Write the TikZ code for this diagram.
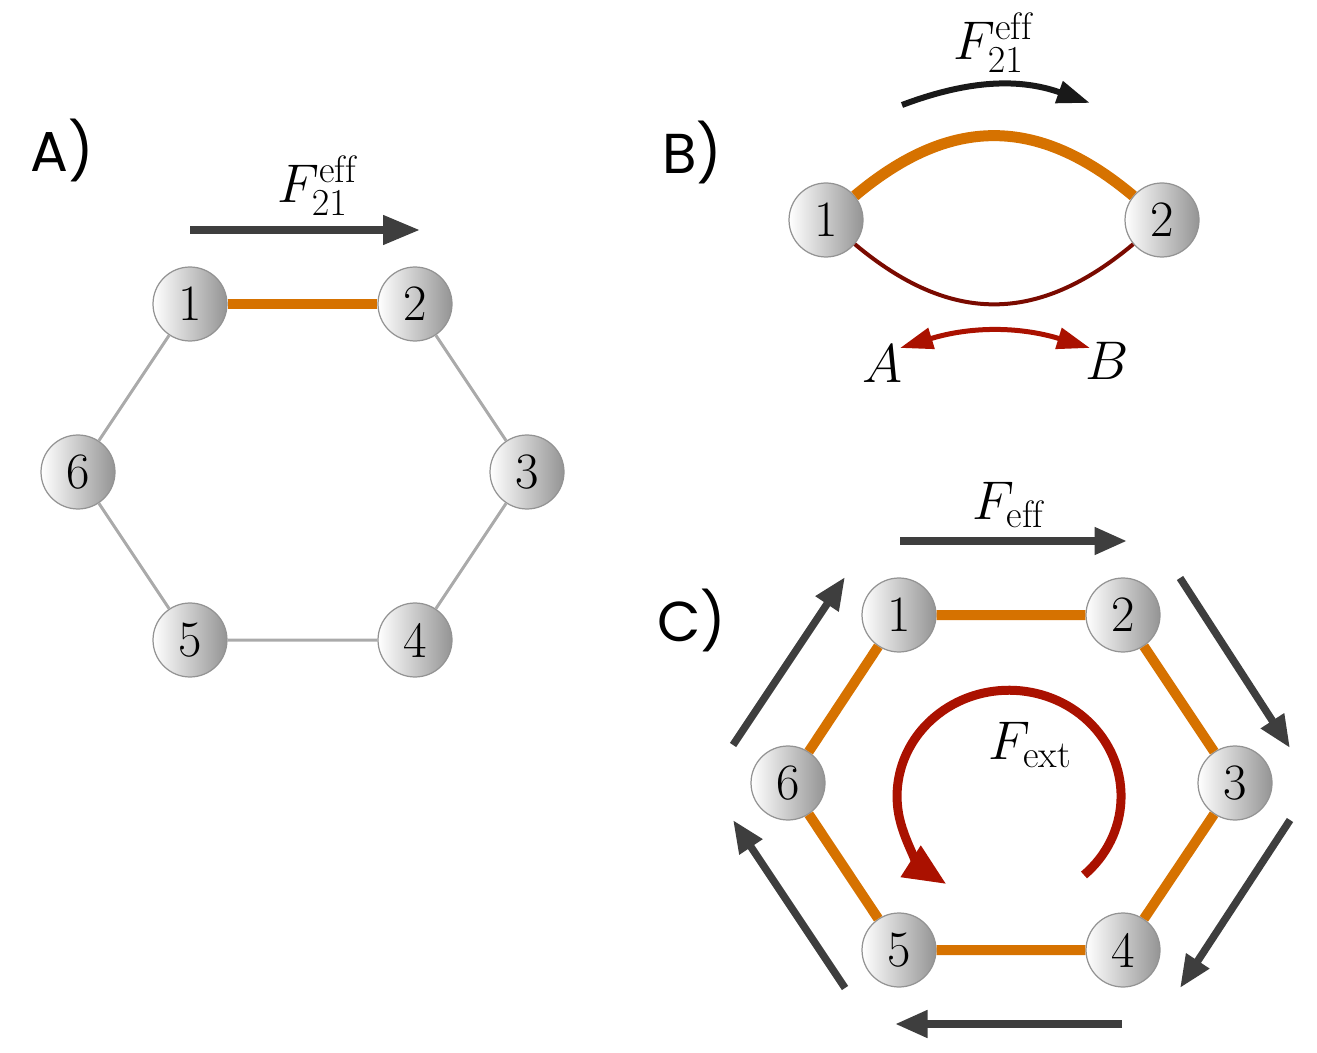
\RequirePackage{fix-cm}
\documentclass[tikz,border=0pt]{standalone}
\usepackage{fontspec}
\newfontfamily\panelfont{Poppins}
\usetikzlibrary{arrows.meta}

\definecolor{linkOrange}{RGB}{214,114,0}
\definecolor{linkDarkRed}{RGB}{122,10,0}
\definecolor{arrowRed}{RGB}{170,17,0}
\definecolor{arrowGray}{RGB}{62,62,62}
\definecolor{edgeGray}{RGB}{170,170,170}

\tikzstyle{ball} = [circle, minimum size=1.48cm, inner sep=0pt, draw=gray!85, line width=0.7pt, left color=white, right color=black!42, font=\fontsize{29}{33}\selectfont]
\tikzstyle{panelLabel} = [font=\panelfont\fontsize{32}{36}\selectfont]
\tikzstyle{forceLabel} = [font=\fontsize{31}{35}\selectfont]
\tikzstyle{thinEdge} = [edgeGray, line width=0.06cm]
\tikzstyle{orangeEdge} = [linkOrange, line width=0.2cm]
\tikzstyle{forceArrow} = [arrowGray, line width=0.15cm, -{Triangle[length=0.65cm,width=0.52cm]}]

\begin{document}
\begin{tikzpicture}[x=0.02cm,y=0.02cm]
    \useasboundingbox (0,0) rectangle (1317,1052);

    % panel A
    \node (lblA)[panelLabel] at (62,902) {A)};
    \node (a1)[ball] at (190,748) {1};
    \node (a2)[ball] at (415,748) {2};
    \node (a3)[ball] at (527,580) {3};
    \node (a4)[ball] at (415,412) {4};
    \node (a5)[ball] at (190,412) {5};
    \node (a6)[ball] at (78,580) {6};

    \draw [thinEdge] (a2) -- (a3) -- (a4) -- (a5) -- (a6) -- (a1);
    \draw [orangeEdge] (a1) -- (a2);

    \coordinate (fa1) at (190,822);
    \coordinate (fa2) at (420,822);
    \draw [forceArrow, -{Triangle[length=0.74cm,width=0.56cm]}] (fa1) -- (fa2);
    \node (Fa)[forceLabel] at (317,866) {$F^{\mathrm{eff}}_{21}$};

    % panel B
    \node (lblB)[panelLabel] at (692,900) {B)};
    \node (b1)[ball] at (826,832) {1};
    \node (b2)[ball] at (1162,832) {2};

    \draw [orangeEdge, line width=0.22cm] (b1) to[out=40,in=140,looseness=1.15] (b2);
    \draw [linkDarkRed, line width=0.08cm] (b1) to[out=-40,in=-140,looseness=1.15] (b2);

    \coordinate (fb1) at (902,947);
    \coordinate (fb2) at (1090,949);
    \draw [black!90, line width=0.12cm, -{Triangle[length=0.66cm,width=0.44cm]}] (fb1) to[bend left=20] (fb2);
    \node (Fb)[forceLabel] at (993,1009) {$F^{\mathrm{eff}}_{21}$};

    \coordinate (ab1) at (900,704);
    \coordinate (ab2) at (1090,704);
    \draw [arrowRed, line width=0.1cm, {Triangle[length=0.66cm,width=0.42cm]}-{Triangle[length=0.66cm,width=0.42cm]}] (ab1) to[bend left=17] (ab2);
    \node (stA)[forceLabel] at (882,688) {$A$};
    \node (stB)[forceLabel] at (1107,691) {$B$};

    % panel C
    \node (lblC)[panelLabel] at (692,432) {C)};
    \node (c1)[ball] at (899,437) {1};
    \node (c2)[ball] at (1123,437) {2};
    \node (c3)[ball] at (1235,269) {3};
    \node (c4)[ball] at (1123,102) {4};
    \node (c5)[ball] at (899,102) {5};
    \node (c6)[ball] at (788,269) {6};

    \draw [orangeEdge] (c1) -- (c2) -- (c3) -- (c4) -- (c5) -- (c6) -- (c1);

    \coordinate (fc1) at (900,511);
    \coordinate (fc2) at (1127,511);
    \coordinate (fc3) at (1180,474);
    \coordinate (fc4) at (1290,304);
    \coordinate (fc5) at (1290,232);
    \coordinate (fc6) at (1180,64);
    \coordinate (fc7) at (1122,28);
    \coordinate (fc8) at (895,28);
    \coordinate (fc9) at (845,64);
    \coordinate (fc10) at (733,232);
    \coordinate (fc11) at (733,307);
    \coordinate (fc12) at (845,475);
    \draw [forceArrow] (fc1) -- (fc2);
    \draw [forceArrow] (fc3) -- (fc4);
    \draw [forceArrow] (fc5) -- (fc6);
    \draw [forceArrow] (fc7) -- (fc8);
    \draw [forceArrow] (fc9) -- (fc10);
    \draw [forceArrow] (fc11) -- (fc12);
    \node (Feff)[forceLabel] at (1008,547) {$F_{\mathrm{eff}}$};

    \coordinate (extStart) at (1084,177);
    \draw [arrowRed, line width=0.18cm, -{Triangle[length=0.85cm,width=0.7cm]}] (extStart) arc[start angle=-48, end angle=236, x radius=112, y radius=106];
    \node (Fext)[forceLabel] at (1030,307) {$F_{\mathrm{ext}}$};

\end{tikzpicture}
\end{document}
